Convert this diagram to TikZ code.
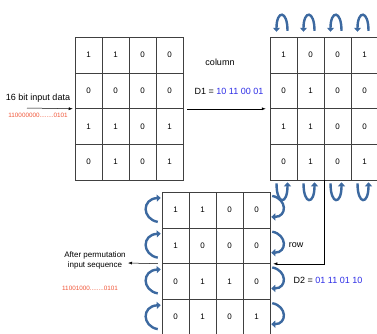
\documentclass[tikz,border=0pt]{standalone}
\usepackage{fontspec}
\setmainfont{Liberation Sans}
\usetikzlibrary{arrows.meta,positioning,calc}
\definecolor{flipblue}{RGB}{60,105,160}
\definecolor{seqred}{RGB}{240,85,55}
\definecolor{keyblue}{RGB}{45,45,230}

\begin{document}
\begin{tikzpicture}[x=1pt, y=-1pt,
  cell/.style={draw=black!75, line width=0.5pt, minimum width=27pt, minimum height=35.75pt,
               inner sep=0pt, font=\fontsize{8}{9}\selectfont},
  lbl/.style={font=\fontsize{9}{10}\selectfont, align=center, inner sep=1pt},
  seq/.style={font=\fontsize{6.3}{7}\selectfont, text=seqred, inner sep=1pt},
  key/.style={text=keyblue},
  flip/.style={flipblue, line width=2.4pt, -{Triangle[length=4pt, width=7pt]}},
  link/.style={-{Latex[length=4pt, width=3pt]}, line width=0.5pt}
]
\useasboundingbox (0,0) rectangle (377,333);

% input block
\foreach \r/\vals in {0/{1,1,0,0},1/{0,0,0,0},2/{1,1,0,1},3/{0,1,0,1}}
  \foreach \v [count=\c from 0] in \vals
    \node[cell] (src-\r-\c) at (88.5+27*\c, 54.9+35.75*\r) {\v};

% after column step
\foreach \r/\vals in {0/{1,0,0,1},1/{0,1,0,0},2/{1,1,0,0},3/{0,1,0,1}}
  \foreach \v [count=\c from 0] in \vals
    \node[cell] (cols-\r-\c) at (283.5+27*\c, 54.9+35.75*\r) {\v};

% after row step
\foreach \r/\vals in {0/{1,1,0,0},1/{1,0,0,0},2/{0,1,1,0},3/{0,1,0,1}}
  \foreach \v [count=\c from 0] in \vals
    \node[cell] (rows-\r-\c) at (175.5+27*\c, 209.9+35.75*\r) {\v};

% flips
\foreach \c in {0,...,3} {
  \draw[flip, shift={(cols-0-\c.north)}] (4,-6) .. controls (4,-27) and (-7,-27) .. (-7,-5);
  \draw[flip, shift={(cols-3-\c.south)}] (-7,3) .. controls (-7,25) and (4,25) .. (4,2);
}
\foreach \r in {0,...,3} {
  \draw[flip, shift={(rows-\r-0.west)}] (-4,12) .. controls (-20,9) and (-20,-11) .. (-1,-12);
  \draw[flip, shift={(rows-\r-3.east)}] (2,-14) .. controls (17,-11) and (17,7) .. (1,7);
}

% input side
\coordinate (in) at (27,108);
\draw[link, shorten >=2pt] (in) -- (src-1-0.south west);
\node[lbl, anchor=south] at (38,104) {16 bit input data};
\node[seq] at (38,115) {110000000........0101};

% column permutation
\draw[link, shorten <=4pt, shorten >=4pt] (src-1-3.south east) -- (cols-1-0.south west);
\node[lbl] at (220,62) {column};
\node[lbl] at (229,91) {D1 = \textcolor{keyblue}{10 11 00 01}};

% row permutation
\draw[link, shorten >=3pt] (cols-3-1.south east) |- (rows-1-3.south east);
\node[lbl] at (296,245) {row};
\node[lbl] at (328,280) {D2 = \textcolor{keyblue}{01 11 01 10}};

% output side
\coordinate (out) at (128,263);
\draw[link, shorten <=4pt] (rows-1-0.south west) -- (out);
\node[lbl, font=\fontsize{8}{10}\selectfont] at (95,260) {After permutation\\input sequence};
\node[seq] at (90,288) {11001000........0101};
\end{tikzpicture}
\end{document}
